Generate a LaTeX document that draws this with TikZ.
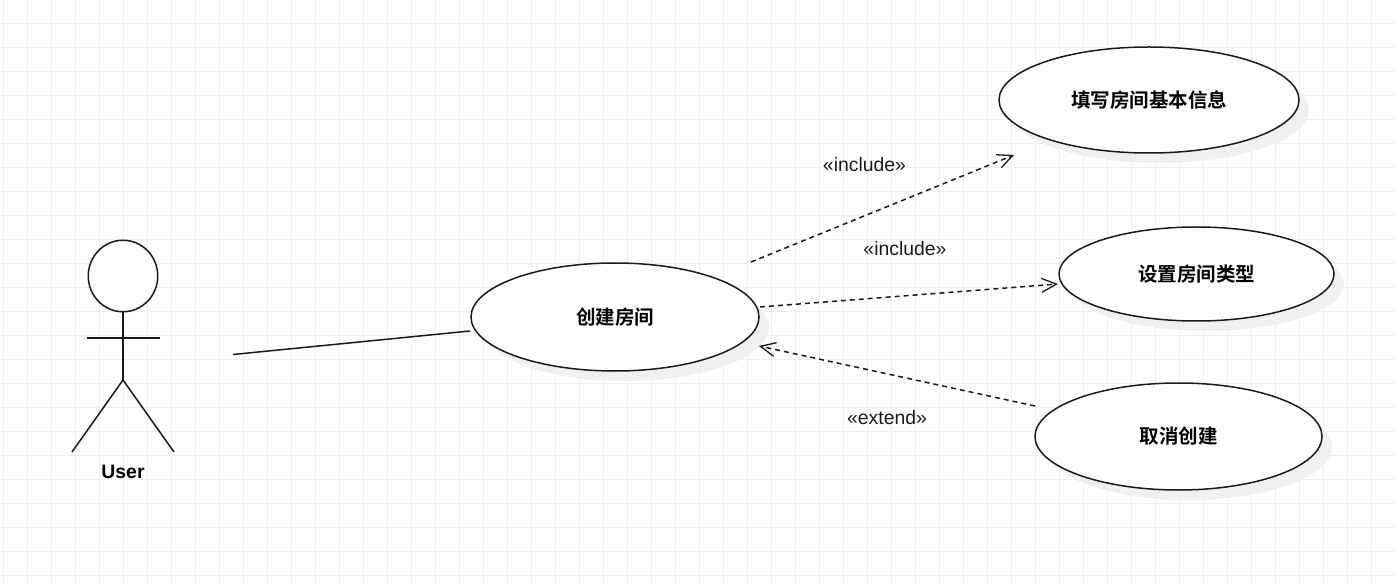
\documentclass[tikz,border=0pt]{standalone}
\usepackage{fontspec}
\setmainfont{Liberation Sans}
\newfontfamily\cjkbold[BoldFont={Noto Sans CJK SC Bold}]{Noto Sans CJK SC}
\usetikzlibrary{shapes.geometric,arrows.meta}
\definecolor{gridc}{HTML}{EFEFEF}
\definecolor{shadowc}{HTML}{F0F0F0}
\definecolor{inkc}{HTML}{1A1A1A}
\tikzset{
  gridline/.style={draw=gridc,line width=1pt},
  shadowshape/.style={fill=shadowc},
  usecase/.style={ellipse,draw=inkc,fill=white,line width=1.5pt,inner sep=0pt,outer sep=0pt,
    font=\cjkbold\bfseries\fontsize{19.5}{24}\selectfont,text=black},
  limb/.style={draw=inkc,line width=1.5pt},
  assoc/.style={draw=inkc,line width=1.5pt},
  depend/.style={draw=inkc,line width=1.5pt,dash pattern=on 5pt off 4pt,
    -{Straight Barb[length=15pt,width=14pt,line width=1.3pt]}},
  stereo/.style={font=\fontsize{19.4}{24}\selectfont,text=inkc,inner sep=0pt},
  actorlabel/.style={font=\bfseries\fontsize{19.4}{24}\selectfont,text=black,inner sep=0pt},
  actorhead/.style={ellipse,draw=inkc,fill=white,line width=1.5pt,minimum width=69.5pt,minimum height=71.5pt,inner sep=0pt,outer sep=0pt}
}
\begin{document}
\begin{tikzpicture}[x=1pt,y=-1pt]
\useasboundingbox (0,0) rectangle (1395,585);
\fill[white] (0,0) rectangle (1395,585);
\foreach \i in {0,...,58} \draw[gridline] ({3.5+24*\i},0) -- ({3.5+24*\i},585);
\foreach \j in {0,...,23} \draw[gridline] (0,{23.5+24*\j}) -- (1395,{23.5+24*\j});

\fill[shadowshape] (1159,110) ellipse [x radius=150,y radius=53];
\fill[shadowshape] (1206.5,284) ellipse [x radius=137.5,y radius=47];
\fill[shadowshape] (1188.5,446.5) ellipse [x radius=143.5,y radius=53.5];
\fill[shadowshape] (625,327) ellipse [x radius=144,y radius=54];

\node[usecase,minimum width=300pt,minimum height=106pt] (fill) at (1149,100) {填写房间基本信息};
\node[usecase,minimum width=275pt,minimum height=94pt] (type) at (1196.5,274) {设置房间类型};
\node[usecase,minimum width=287pt,minimum height=107pt] (cancel) at (1178.5,436.5) {取消创建};
\node[usecase,minimum width=288pt,minimum height=108pt] (create) at (615,317) {创建房间};

\node[actorhead] (head) at (123,276) {};
\coordinate (hip) at (123,380);
\coordinate (armL) at (86.5,338);
\coordinate (armR) at (159.5,338);
\coordinate (footL) at (72,452);
\coordinate (footR) at (174,452);
\draw[limb] (head.south) -- (hip);
\draw[limb] (armL) -- (armR);
\draw[limb] (footL) -- (hip) -- (footR);
\node[actorlabel] (user) at (123,472) {User};

\coordinate (actorEnd) at (233,354.5);
\coordinate (createIn) at (470,331);
\draw[assoc] (actorEnd) -- (createIn);

\coordinate (incOneStart) at (751,262);
\coordinate (incOneEnd) at (1014,155);
\draw[depend] (incOneStart) -- (incOneEnd);
\coordinate (incTwoStart) at (760,307);
\coordinate (incTwoEnd) at (1058,284);
\draw[depend] (incTwoStart) -- (incTwoEnd);
\coordinate (extStart) at (1035,406);
\coordinate (extEnd) at (759,346);
\draw[depend] (extStart) -- (extEnd);

\node[stereo] (lblOne) at (864.5,164.7) {«include»};
\node[stereo] (lblTwo) at (905,248.7) {«include»};
\node[stereo] (lblThree) at (887,417.7) {«extend»};
\end{tikzpicture}
\end{document}
